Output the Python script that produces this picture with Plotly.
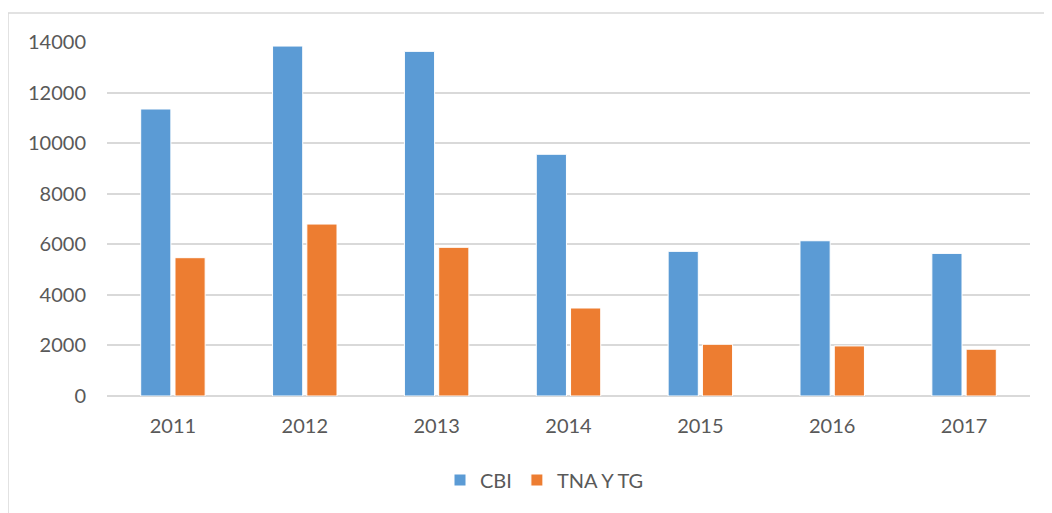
import plotly.graph_objects as go

years = ["2011", "2012", "2013", "2014", "2015", "2016", "2017"]
cbi = [11350, 13840, 13630, 9560, 5720, 6140, 5640]
tna = [5470, 6800, 5880, 3480, 2045, 1980, 1850]
y_ticks = [0, 2000, 4000, 6000, 8000, 10000, 12000, 14000]

OFF = 8  # page body margin
W, H = 1052 - OFF, 513 - OFF
L, T = 107 - OFF, 42 - OFF
R = W - (1030 - OFF)
B = H - (396 - OFF)
pw, ph = W - L - R, H - T - B

def px_x(p):
    return (p - OFF - L) / pw

def px_y(p):
    return (H - B - (p - OFF)) / ph

fig = go.Figure()
fig.add_trace(go.Bar(x=years, y=cbi, name="CBI",
                     marker=dict(color="#5B9BD5", line=dict(color="white", width=1))))
fig.add_trace(go.Bar(x=years, y=tna, name="TNA Y TG",
                     marker=dict(color="#ED7D31", line=dict(color="white", width=1))))

font = dict(family="Lato, Carlito, 'Open Sans', sans-serif", size=20, color="#595959")

fig.update_layout(
    width=W, height=H,
    margin=dict(l=L, r=R, t=T, b=B, pad=0),
    paper_bgcolor="white", plot_bgcolor="white",
    barmode="group", bargap=0.48, bargroupgap=0.12,
    font=font,
    showlegend=True,
    legend=dict(orientation="h", x=px_x(440), xanchor="left", y=px_y(480), yanchor="middle",
                font=dict(family=font["family"], size=20, color="#595959"),
                itemwidth=30, traceorder="normal"),
    xaxis=dict(showgrid=False, showline=False, zeroline=False, ticks="",
               tickfont=dict(size=20, color="#595959"), ticklabelstandoff=16),
    yaxis=dict(range=[0, 14000], tickvals=y_ticks, tickformat="d", showgrid=True,
               gridcolor="#D9D9D9", gridwidth=1.5, zeroline=True, zerolinecolor="#D9D9D9",
               zerolinewidth=1.5, showline=False, ticks="",
               tickfont=dict(size=20, color="#595959"), ticklabelstandoff=20),
    shapes=[dict(type="rect", xref="paper", yref="paper",
                 x0=px_x(8), x1=px_x(1070), y0=px_y(540), y1=px_y(13),
                 line=dict(color="#D9D9D9", width=1.5), fillcolor="rgba(0,0,0,0)", layer="below")],
)

fig.write_html("out.html")
